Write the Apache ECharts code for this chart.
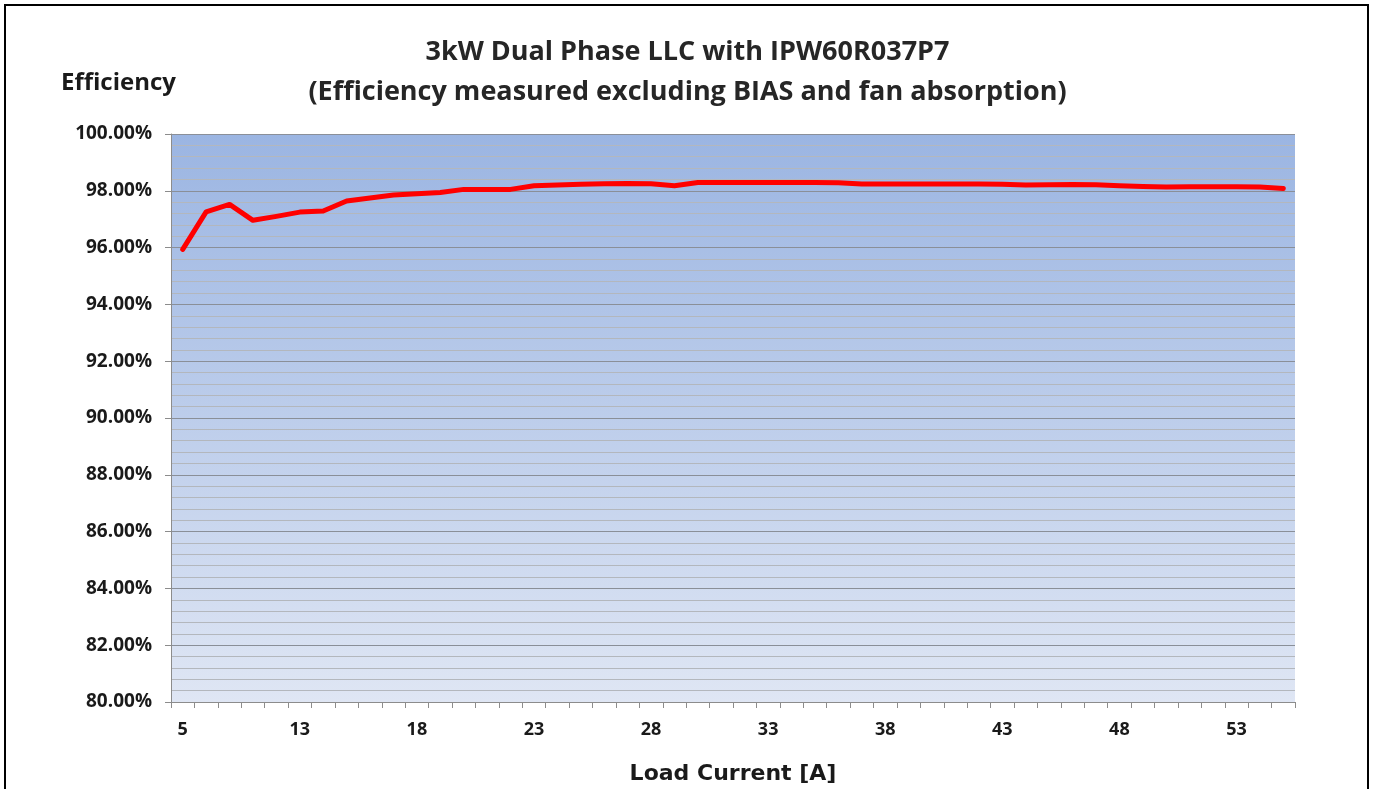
<!DOCTYPE html>
<html>
<head>
<meta charset="utf-8">
<script src="https://cdn.jsdelivr.net/npm/echarts@6/dist/echarts.min.js"></script>
<style>
  html, body { margin: 0; padding: 0; background: #fff; }
  #main { width: 1375px; height: 789px; }
</style>
</head>
<body>
<div id="main"></div>
<script>
// load current [A] - only every 5th label is shown on the axis
const loadCurrent = ['5', '7', '9', '11', '12', '13', '14', '15', '16', '17',
  '18', '19', '20', '21', '22', '23', '24', '25', '26', '27',
  '28', '29', '30', '31', '32', '33', '34', '35', '36', '37',
  '38', '39', '40', '41', '42', '43', '44', '45', '46', '47',
  '48', '49', '50', '51', '52', '53', '54', '55'];

// efficiency in %
const efficiency = [95.94, 97.26, 97.52, 96.96, 97.10, 97.25, 97.29, 97.64, 97.75, 97.85,
  97.90, 97.94, 98.05, 98.05, 98.05, 98.18, 98.20, 98.23, 98.25, 98.26,
  98.25, 98.18, 98.29, 98.29, 98.29, 98.29, 98.29, 98.29, 98.28, 98.24,
  98.24, 98.24, 98.24, 98.24, 98.24, 98.23, 98.20, 98.21, 98.22, 98.21,
  98.18, 98.15, 98.13, 98.14, 98.14, 98.14, 98.13, 98.08];

const yTicks = { min: 80, max: 100, step: 2 };

const font = '"Open Sans", sans-serif';
const txt = '#1a1a1a';

let chart = echarts.init(document.getElementById('main'));

let option = {
  animation: false,
  backgroundColor: '#fff',
  title: {
    text: '3kW Dual Phase LLC with IPW60R037P7\n(Efficiency measured excluding BIAS and fan absorption)',
    left: 'center',
    top: 27,
    textStyle: {
      fontFamily: font,
      fontSize: 27,
      fontWeight: 'bold',
      color: '#262626',
      lineHeight: 40
    }
  },
  grid: {
    left: 171,
    right: 80,
    top: 134,
    bottom: 87,
    outerBoundsMode: 'none',
    show: true,
    borderWidth: 0,
    backgroundColor: new echarts.graphic.LinearGradient(0, 0, 0, 1, [
      { offset: 0, color: '#9bb5e2' },
      { offset: 1, color: '#dfe6f4' }
    ])
  },
  graphic: [
    {
      type: 'rect',
      shape: { x: 5, y: 5, width: 1363, height: 800 },
      style: { fill: 'none', stroke: '#000', lineWidth: 2 },
      silent: true
    },
    {
      type: 'text',
      left: 61,
      top: 71,
      style: {
        text: 'Efficiency',
        fontFamily: font,
        fontSize: 24,
        fontWeight: 'bold',
        fill: txt
      }
    }
  ],
  xAxis: {
    type: 'category',
    data: loadCurrent,
    boundaryGap: true,
    name: 'Load Current [A]',
    nameLocation: 'middle',
    nameGap: 61,
    nameTextStyle: {
      fontFamily: '"DejaVu Sans", sans-serif',
      fontSize: 22,
      fontWeight: 'bold',
      color: txt
    },
    axisLine: { lineStyle: { color: '#8c8c8c', width: 1 } },
    axisTick: {
      show: true,
      interval: 0,
      length: 6,
      lineStyle: { color: '#8c8c8c' }
    },
    axisLabel: {
      interval: 4,
      margin: 19,
      fontFamily: font,
      fontSize: 18,
      fontWeight: 'bold',
      color: txt
    },
    splitLine: { show: false }
  },
  yAxis: {
    type: 'value',
    min: yTicks.min,
    max: yTicks.max,
    interval: yTicks.step,
    axisLine: { show: true, lineStyle: { color: '#8c8c8c', width: 1 } },
    axisTick: { show: true, length: 6, lineStyle: { color: '#8c8c8c' } },
    axisLabel: {
      margin: 19,
      fontFamily: font,
      fontSize: 19,
      fontWeight: 'bold',
      color: txt,
      formatter: v => v.toFixed(2) + '%'
    },
    splitLine: { show: true, lineStyle: { color: '#8a8f98', width: 1 } },
    minorTick: { show: false, splitNumber: 5 },
    minorSplitLine: { show: true, lineStyle: { color: '#b3b7bd', width: 1 } }
  },
  series: [
    {
      type: 'line',
      data: efficiency,
      symbol: 'none',
      lineStyle: { color: '#ff0000', width: 5, join: 'round', cap: 'round' }
    }
  ]
};

chart.setOption(option);
</script>
</body>
</html>
